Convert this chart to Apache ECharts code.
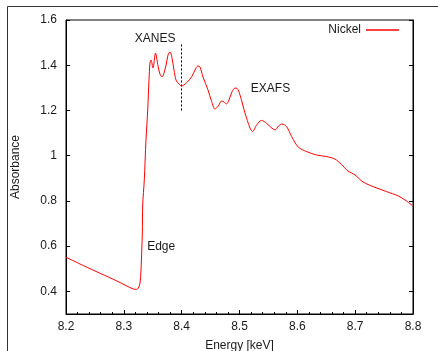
<!DOCTYPE html>
<html>
<head>
<meta charset="utf-8">
<script src="https://cdn.jsdelivr.net/npm/echarts@6/dist/echarts.min.js"></script>
<style>
html,body{margin:0;padding:0;background:#fff;}
#chart{width:438px;height:351px;}
</style>
</head>
<body>
<div id="chart"></div>
<script>
// Energy [keV]
const energy = [8.200,8.230,8.259,8.288,8.305,8.316,8.322,8.325,8.328,8.3297,8.331,8.332,8.3326,8.3354,8.3383,8.3413,8.3435,8.3452,8.347,8.3504,8.3548,8.3591,8.3625,8.366,8.3695,8.373,8.3764,8.3798,8.3833,8.3867,8.3902,8.3954,8.3997,8.4087,8.4173,8.4248,8.4282,8.4317,8.4369,8.4455,8.4519,8.4576,8.4633,8.4692,8.4732,8.4775,8.4818,8.487,8.4922,8.4957,8.5009,8.5095,8.5182,8.5225,8.5297,8.538,8.547,8.5545,8.5614,8.5674,8.5735,8.5816,8.5903,8.6017,8.6162,8.6335,8.6508,8.6651,8.6764,8.6876,8.6997,8.7135,8.7314,8.7545,8.7746,8.7862,8.800];
// Absorbance (Nickel)
const absorbance = [0.551,0.514,0.480,0.446,0.424,0.411,0.409,0.414,0.437,0.495,0.583,0.658,0.782,0.893,1.069,1.202,1.335,1.410,1.423,1.388,1.454,1.397,1.361,1.348,1.366,1.401,1.445,1.459,1.432,1.379,1.335,1.317,1.308,1.323,1.349,1.388,1.397,1.392,1.348,1.291,1.239,1.206,1.220,1.242,1.237,1.229,1.246,1.282,1.299,1.298,1.268,1.189,1.122,1.107,1.136,1.156,1.143,1.125,1.114,1.131,1.140,1.128,1.084,1.038,1.018,1.003,0.996,0.985,0.961,0.932,0.915,0.884,0.863,0.841,0.822,0.804,0.778];
const seriesName = 'Nickel';
const yTicks = [0.4,0.6,0.8,1,1.2,1.4,1.6];
const xTicks = [8.2,8.3,8.4,8.5,8.6,8.7,8.8];
// Annotations: [label, energy, absorbance]
const notes = [['XANES',8.354,1.516],['EXAFS',8.5536,1.295],['Edge',8.3395,0.596]];
const xanesLine = [8.4,1.2,1.5]; // x, yFrom, yTo

const chart = echarts.init(document.getElementById('chart'));
const font = 'Liberation Sans, Arial, Helvetica, sans-serif';
const txt = '#1a1a1a';
const data = energy.map((e,i)=>[e,absorbance[i]]);

chart.setOption({
  animation:false,
  backgroundColor:'#fff',
  textStyle:{fontFamily:font},
  grid:{left:66,top:20,right:25,bottom:37,show:true,borderColor:'#000',borderWidth:1,backgroundColor:'transparent',containLabel:false,outerBoundsMode:'none'},
  legend:{
    data:[seriesName], right:39, top:24, padding:0, align:'right',
    icon:'rect', itemWidth:33, itemHeight:1.3,
    itemStyle:{color:'#ff0000'},
    textStyle:{fontSize:12,color:txt,fontFamily:font}
  },
  xAxis:{
    type:'value', min:8.2, max:8.8, interval:0.1,
    name:'Energy [keV]', nameLocation:'middle', nameGap:26,
    nameTextStyle:{fontSize:12,color:txt,fontFamily:font},
    axisLine:{lineStyle:{color:'#000',width:1}},
    axisTick:{inside:true,length:4,lineStyle:{color:'#000'}},
    minorTick:{show:true,splitNumber:5,length:2,lineStyle:{color:'#000'}},
    axisLabel:{color:txt,fontSize:12,margin:7,fontFamily:font,formatter:v=>String(Math.round(v*10)/10)},
    splitLine:{show:false}
  },
  yAxis:[{
    type:'value', min:0.3, max:1.6,
    name:'Absorbance', nameLocation:'middle', nameGap:44, nameRotate:90,
    nameTextStyle:{fontSize:12,color:txt,fontFamily:font},
    axisLine:{show:true,lineStyle:{color:'#000',width:1}},
    axisTick:{show:true,inside:true,length:4,customValues:yTicks,lineStyle:{color:'#000'}},
    axisLabel:{color:txt,fontSize:12,margin:9,fontFamily:font,customValues:yTicks,formatter:v=>String(Math.round(v*10)/10)},
    splitLine:{show:false}
  },{
    type:'value', min:0.3, max:1.6, position:'right',
    axisLine:{show:true,lineStyle:{color:'#000',width:1}},
    axisTick:{show:true,inside:true,length:4,customValues:yTicks,lineStyle:{color:'#000'}},
    axisLabel:{show:false},
    splitLine:{show:false}
  }],
  series:[{
    name:seriesName, type:'line', data:data, smooth:0.3, showSymbol:false,
    symbol:'none', lineStyle:{color:'#ff0000',width:1}, itemStyle:{color:'#ff0000'},
    markLine:{
      silent:true, symbol:['none','none'], label:{show:false},
      lineStyle:{color:'#000',type:[2,2],width:1},
      data:[[{coord:[xanesLine[0],xanesLine[1]]},{coord:[xanesLine[0],xanesLine[2]]}]]
    },
    markPoint:{
      silent:true, symbol:'circle', symbolSize:1, itemStyle:{color:'rgba(0,0,0,0)'},
      data:notes.map(n=>({
        name:n[0], coord:[n[1],n[2]],
        label:{show:true,formatter:n[0],position:n[0]==='Edge'?'right':'inside',distance:0,color:txt,fontSize:12,fontFamily:font}
      }))
    }
  }],
  graphic:[
    {type:'line',shape:{x1:7.5,y1:6.5,x2:438,y2:6.5},style:{stroke:'#333',lineWidth:1},silent:true},
    {type:'line',shape:{x1:7.5,y1:6.5,x2:7.5,y2:351},style:{stroke:'#333',lineWidth:1},silent:true}
  ]
});
</script>
</body>
</html>
